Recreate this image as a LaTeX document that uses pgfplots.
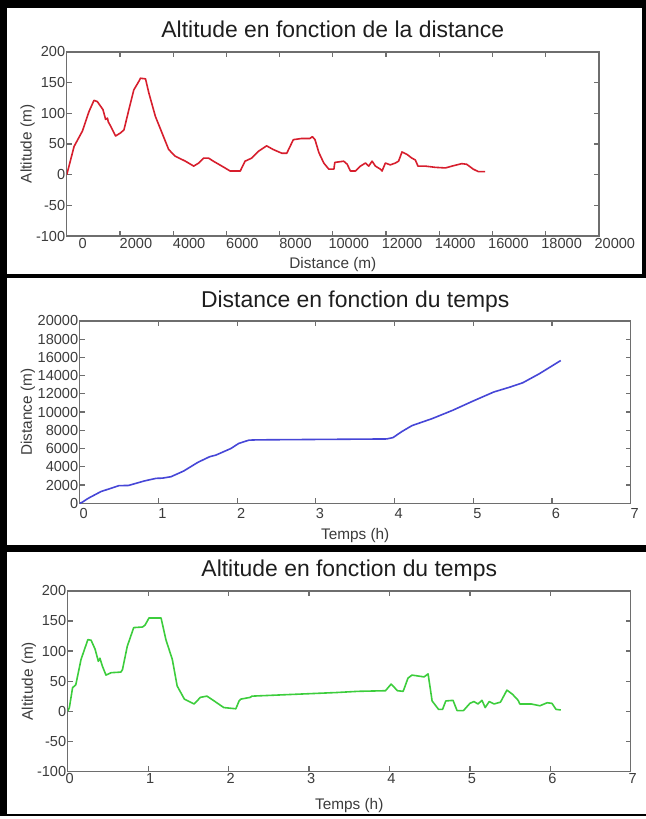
\documentclass[border=0pt]{standalone}
\usepackage{fontspec}
\setmainfont{Liberation Sans}
\usepackage{pgfplots}
\usepackage{pgfplotstable}
\pgfplotsset{compat=1.18}
\definecolor{tickgray}{RGB}{60,60,60}
\definecolor{titlegray}{RGB}{30,30,30}
\definecolor{axgray}{RGB}{110,110,110}
\definecolor{cred}{RGB}{215,30,45}
\definecolor{cblue}{RGB}{70,70,215}
\definecolor{cgreen}{RGB}{60,205,60}

\pgfplotstableread{
d alt
0 0
150 25
275 46
450 60
587 71
837 103
1023 121
1148 119
1360 106
1460 90
1530 92
1560 86
1650 79
1835 63
2020 68
2150 73
2335 106
2520 138
2710 152
2770 157
2960 156
3085 133
3330 95
3580 68
3830 41
4080 30
4460 22
4770 14
4960 19
5140 27
5330 27
5510 22
5830 14
6140 6
6520 6
6700 22
6950 27
7200 38
7510 47
7760 41
8080 35
8270 35
8515 57
8830 59
9140 59
9230 62
9330 57
9475 36
9660 19
9850 9
10040 9
10075 20
10410 22
10540 17
10660 6
10850 6
11040 14
11225 19
11350 14
11475 22
11600 14
11790 9
11850 6
11975 19
12160 16
12350 19
12470 22
12600 37
12790 33
12970 27
13100 24
13200 14
13470 14
13850 12
14230 11
14480 14
14845 18
15030 17
15280 9
15470 5
15720 5
}\altdist

\pgfplotstableread{
t d
0 0
0.03 100
0.11 550
0.27 1280
0.50 1930
0.62 1950
0.82 2440
0.97 2730
1.05 2750
1.16 2910
1.32 3530
1.50 4480
1.65 5100
1.73 5280
1.92 6000
2.02 6560
2.15 6920
2.26 6950
3.90 7050
3.98 7200
4.09 7850
4.22 8510
4.48 9290
4.74 10200
5.00 11220
5.26 12200
5.47 12750
5.63 13220
5.84 14210
6.11 15650
}\disttime

\pgfplotstableread{
t alt
0 0
0.02 6
0.06 39
0.10 44
0.165 86
0.25 119
0.29 118
0.34 103
0.38 83
0.40 88
0.43 75
0.475 60
0.54 64
0.66 65
0.68 69
0.74 108
0.82 139
0.93 140
0.96 143
1.01 155
1.16 155
1.22 119
1.30 86
1.36 42
1.45 20
1.57 12
1.65 23
1.73 25
1.82 17
1.94 6
2.09 4
2.13 17
2.15 20
2.27 23
2.29 25
3.34 31
3.61 33
3.95 34
4.02 45
4.10 34
4.17 33
4.23 55
4.28 60
4.43 57
4.48 62
4.53 17
4.61 3
4.66 3
4.70 17
4.79 18
4.84 1
4.92 1
5.00 13
5.05 16
5.10 12
5.15 18
5.19 6
5.24 16
5.30 12
5.38 15
5.46 35
5.53 28
5.60 18
5.62 12
5.76 12
5.87 9
5.96 14
6.02 13
6.07 3
6.13 2
}\alttime

\pgfplotsset{
  mlab/.style={
    scale only axis,
    anchor=south west,
    axis line style={draw=axgray, line width=0.7pt},
    tick style={draw=axgray, line width=0.6pt},
    major tick length=2.5pt,
    tick align=inside,
    scaled ticks=false,
    /pgf/number format/assume math mode=true,
    /pgf/number format/fixed,
    /pgf/number format/1000 sep={},
    ticklabel style={font=\fontsize{7.3}{8}\selectfont, text=tickgray},
    xticklabel style={inner sep=0.8pt},
    yticklabel style={inner sep=0.6pt},
    title style={font=\fontsize{11.5}{13}\selectfont, text=titlegray, anchor=base, yshift=-6pt},
    xlabel style={font=\fontsize{7.7}{9}\selectfont, text=tickgray, anchor=base},
    ylabel style={font=\fontsize{7.7}{9}\selectfont, text=tickgray, anchor=base, rotate=0},
    every axis plot/.append style={line width=0.8pt, line join=round},
  }
}

\begin{document}
\begin{tikzpicture}
\fill[black] (0pt,0pt) rectangle (324pt,409.5pt);
\fill[white] (3.5pt,272pt) rectangle (322pt,405.5pt);
\fill[white] (3.5pt,136pt) rectangle (324pt,270pt);
\fill[white] (3.5pt,1pt) rectangle (324pt,132.5pt);

% Panel 1
\begin{axis}[mlab,
  at={(33.5pt,291pt)},
  width=267pt, height=92.5pt,
  xmin=0, xmax=20000, ymin=-100, ymax=200,
  xtick={0,2000,...,20000},
  ytick={-100,-50,...,200},
  xticklabel style={xshift=8pt},
  title={Altitude en fonction de la distance},
  title style={at={(axis description cs:0.5,1.0757)}},
  xlabel={Distance (m)},
  xlabel style={at={(axis description cs:0.5,-0.1746)}},
  ylabel={Altitude (m)},
  ylabel style={at={(axis description cs:-0.0661,0.5)}},
]
\addplot[cred] table[x=d, y=alt] {\altdist};
\end{axis}

% Panel 2
\begin{axis}[mlab,
  at={(40pt,157pt)},
  width=276.5pt, height=91.5pt,
  xmin=0, xmax=7, ymin=0, ymax=20000,
  xtick={0,1,...,7},
  ytick={0,2000,...,20000},
  xticklabel style={xshift=2pt, yshift=-1.5pt},
  title={Distance en fonction du temps},
  title style={at={(axis description cs:0.5,1.0749)}},
  xlabel={Temps (h)},
  xlabel style={at={(axis description cs:0.5,-0.1967)}},
  ylabel={Distance (m)},
  ylabel style={at={(axis description cs:-0.0868,0.5)}},
]
\addplot[cblue] table[x=t, y=d] {\disttime};
\end{axis}

% Panel 3
\begin{axis}[mlab,
  at={(34pt,22.5pt)},
  width=282.5pt, height=90.5pt,
  xmin=0, xmax=7, ymin=-100, ymax=200,
  xtick={0,1,...,7},
  ytick={-100,-50,...,200},
  xticklabel style={xshift=1pt},
  title={Altitude en fonction du temps},
  title style={at={(axis description cs:0.5,1.0812)}},
  xlabel={Temps (h)},
  xlabel style={at={(axis description cs:0.5,-0.21)}},
  ylabel={Altitude (m)},
  ylabel style={at={(axis description cs:-0.0619,0.5)}},
]
\addplot[cgreen] table[x=t, y=alt] {\alttime};
\end{axis}
\end{tikzpicture}
\end{document}
